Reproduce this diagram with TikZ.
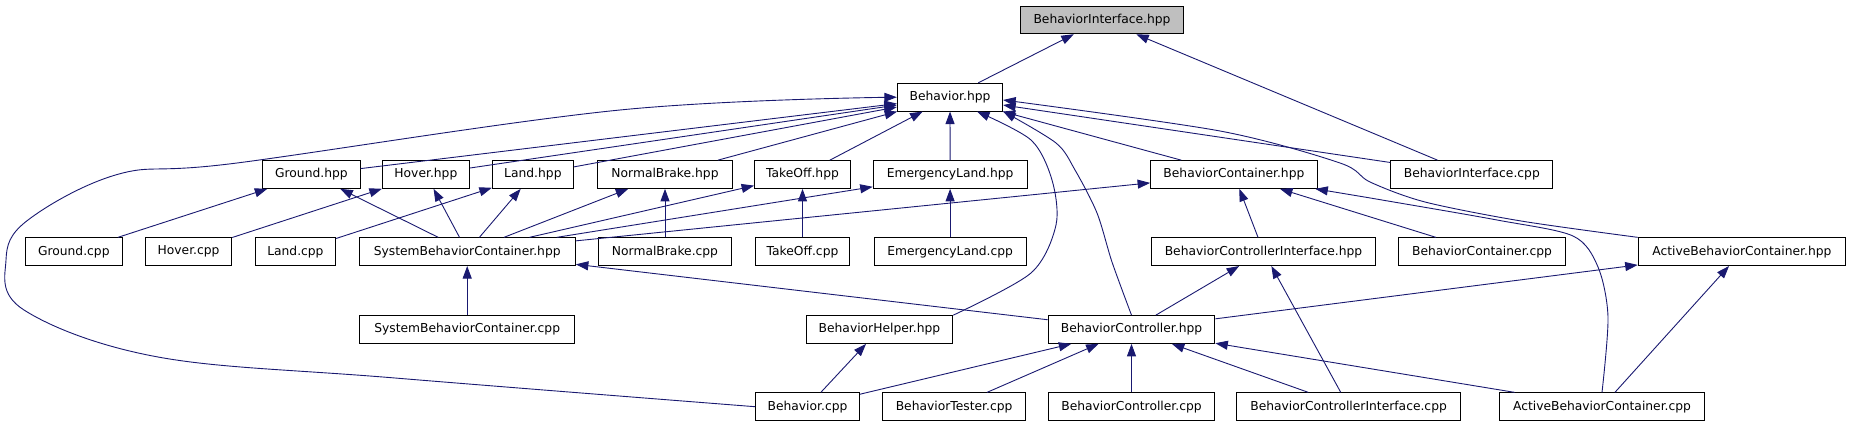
\documentclass[tikz,border=0pt]{standalone}
\usepackage{fontspec}
\setmainfont{DejaVu Sans}
\usetikzlibrary{arrows.meta}
\definecolor{edgeblue}{HTML}{191970}
\definecolor{rootgray}{HTML}{BFBFBF}

\begin{document}
\begin{tikzpicture}[x=1pt, y=-1pt,
        file/.style = {draw = black, line width = 1pt, fill = white, minimum height = 27.7pt, inner sep = 0pt, font = \fontsize{12.3}{14}\selectfont},
        dep/.style = {draw = edgeblue, line width = 0.9pt, -{Triangle[length = 12.5pt, width = 9pt]}}]
    \useasboundingbox (0,0) rectangle (1850,427);

    \node[file, fill = rootgray, minimum width = 162.5pt] (bih) at (1102, 19.9) {BehaviorInterface.hpp};
    \node[file, minimum width = 105.3pt] (bh) at (950, 97.2) {Behavior.hpp};

    \node[file, minimum width = 97.6pt] (gndh) at (311.4, 174.5) {Ground.hpp};
    \node[file, minimum width = 87pt] (hovh) at (425.9, 174.5) {Hover.hpp};
    \node[file, minimum width = 81.1pt] (landh) at (532.9, 174.5) {Land.hpp};
    \node[file, minimum width = 135pt] (nbh) at (665, 174.5) {NormalBrake.hpp};
    \node[file, minimum width = 95.8pt] (toh) at (802.5, 174.5) {TakeOff.hpp};
    \node[file, minimum width = 153.8pt] (elh) at (950.1, 174.5) {EmergencyLand.hpp};
    \node[file, minimum width = 166.6pt] (bch) at (1233.9, 174.5) {BehaviorContainer.hpp};
    \node[file, minimum width = 161.9pt] (bicpp) at (1471.8, 174.5) {BehaviorInterface.cpp};

    \node[file, minimum width = 96.9pt] (gndc) at (73.8, 251.7) {Ground.cpp};
    \node[file, minimum width = 86.2pt] (hovc) at (188.6, 251.7) {Hover.cpp};
    \node[file, minimum width = 79.9pt] (landc) at (295.4, 251.7) {Land.cpp};
    \node[file, minimum width = 216.3pt] (sbch) at (467.2, 251.7) {SystemBehaviorContainer.hpp};
    \node[file, minimum width = 133.3pt] (nbc) at (665, 251.7) {NormalBrake.cpp};
    \node[file, minimum width = 94.9pt] (toc) at (802.5, 251.7) {TakeOff.cpp};
    \node[file, minimum width = 152.2pt] (elc) at (950.1, 251.7) {EmergencyLand.cpp};
    \node[file, minimum width = 224.1pt] (bcih) at (1263.5, 251.7) {BehaviorControllerInterface.hpp};
    \node[file, minimum width = 167.1pt] (bcc) at (1482, 251.7) {BehaviorContainer.cpp};
    \node[file, minimum width = 207.4pt] (abch) at (1741.9, 251.7) {ActiveBehaviorContainer.hpp};

    \node[file, minimum width = 214.7pt] (sbcc) at (467.2, 329.5) {SystemBehaviorContainer.cpp};
    \node[file, minimum width = 146.8pt] (bhelp) at (879.4, 329.5) {BehaviorHelper.hpp};
    \node[file, minimum width = 166.6pt] (bctrlh) at (1131.5, 329.5) {BehaviorController.hpp};

    \node[file, minimum width = 104pt] (bcpp) at (807.5, 406.7) {Behavior.cpp};
    \node[file, minimum width = 142.6pt] (btc) at (954.1, 406.7) {BehaviorTester.cpp};
    \node[file, minimum width = 166.6pt] (bctrlc) at (1131.5, 406.7) {BehaviorController.cpp};
    \node[file, minimum width = 223.4pt] (bcic) at (1348.6, 406.7) {BehaviorControllerInterface.cpp};
    \node[file, minimum width = 205.7pt] (abcc) at (1602, 406.7) {ActiveBehaviorContainer.cpp};

    \draw[dep] (bh) -- (bih);
    \draw[dep] (bicpp) -- (bih);

    \draw[dep] (gndh) -- (bh);
    \draw[dep] (hovh) -- (bh);
    \draw[dep] (landh) -- (bh);
    \draw[dep] (nbh) -- (bh);
    \draw[dep] (toh) -- (bh);
    \draw[dep] (elh) -- (bh);
    \draw[dep] (bch) -- (bh);
    \draw[dep] (bicpp) -- (bh);
    \draw[dep] plot[smooth, tension = 0.6] coordinates {(bcpp.west) (395,378) (158,357) (24,310) (6,260) (28,220) (119,174) (237,163) (620,110) (bh.west)};
    \draw[dep] plot[smooth] coordinates {(bhelp.north east) (1031,273) (1056,225) (1052,180) (1031,140) (bh.-28)};
    \draw[dep] plot[smooth] coordinates {(bctrlh.north) (1112,262) (1097,213) (1075,170) (1056,143) (bh.-15)};
    \draw[dep] plot[smooth] coordinates {(abch.north west) (1521,221) (1425,202) (1370,182) (1340,163) (1220,131) (bh.-3)};

    \draw[dep] (gndc) -- (gndh);
    \draw[dep] (sbch) -- (gndh);
    \draw[dep] (hovc) -- (hovh);
    \draw[dep] (sbch) -- (hovh);
    \draw[dep] (landc) -- (landh);
    \draw[dep] (sbch) -- (landh);
    \draw[dep] (sbch) -- (nbh);
    \draw[dep] (nbc) -- (nbh);
    \draw[dep] (sbch) -- (toh);
    \draw[dep] (toc) -- (toh);
    \draw[dep] (sbch) -- (elh);
    \draw[dep] (elc) -- (elh);
    \draw[dep] (sbch) -- (bch);
    \draw[dep] (bcih) -- (bch);
    \draw[dep] (bcc) -- (bch);
    \draw[dep] plot[smooth] coordinates {(abcc.north) (1608,317) (1598,267) (1573,236) (1497,220) (1382,200) (bch.-10)};

    \draw[dep] (sbcc) -- (sbch);
    \draw[dep] (bctrlh) -- (sbch);
    \draw[dep] (bctrlh) -- (bcih);
    \draw[dep] (bcic) -- (bcih);
    \draw[dep] (bctrlh) -- (abch);
    \draw[dep] (abcc) -- (abch);

    \draw[dep] (bcpp) -- (bhelp);
    \draw[dep] (bcpp) -- (bctrlh);
    \draw[dep] (btc) -- (bctrlh);
    \draw[dep] (bctrlc) -- (bctrlh);
    \draw[dep] (bcic) -- (bctrlh);
    \draw[dep] (abcc) -- (bctrlh);
\end{tikzpicture}
\end{document}
